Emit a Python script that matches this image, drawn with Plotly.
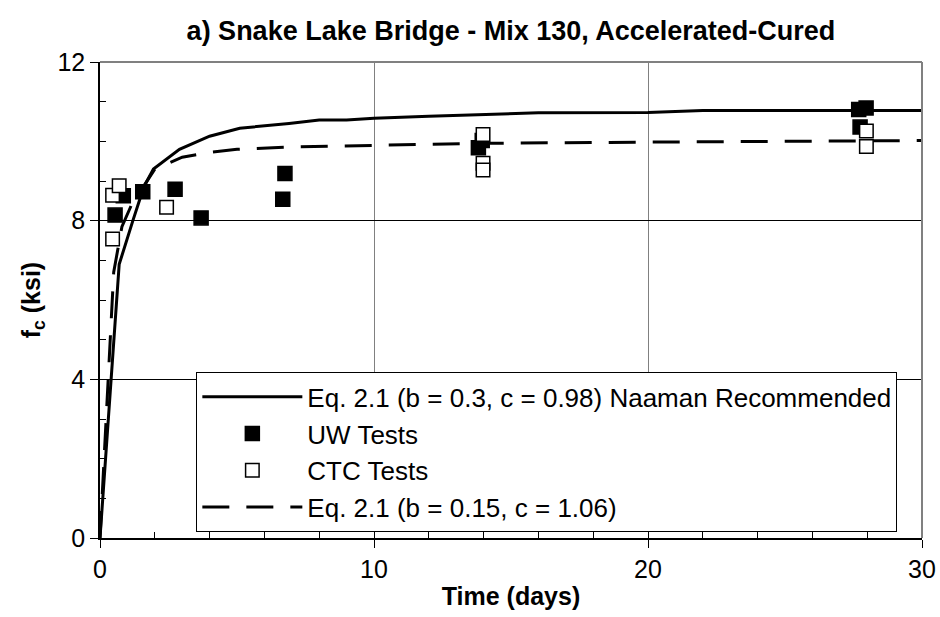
import plotly.graph_objects as go

# ---------------- data ----------------
# Eq. 2.1 (b = 0.3, c = 0.98) Naaman Recommended
naaman_t = [0, 0.7, 1.2, 1.6, 1.95, 2.9, 4.0, 5.1, 6.9, 8.0, 9.0, 10.0, 12.0, 14.0, 16.0, 20.0, 22.0, 30.0]
naaman_f = [0, 6.9, 8.0, 8.85, 9.3, 9.8, 10.13, 10.33, 10.45, 10.54, 10.54, 10.58, 10.63, 10.67, 10.72, 10.73, 10.78, 10.78]

# Eq. 2.1 (b = 0.15, c = 1.06)
fit_t = [0, 0.5, 0.8, 1.15, 2.0, 3.0, 4.0, 5.0, 7.0, 10.0, 14.0, 20.0, 28.0, 30.0]
fit_f = [0, 6.7, 7.85, 8.4, 9.3, 9.6, 9.72, 9.8, 9.86, 9.9, 9.95, 9.98, 10.02, 10.02]

# UW Tests
uw_t = [0.55, 0.85, 1.56, 2.74, 3.69, 6.67, 6.75, 13.81, 13.95, 27.69, 27.96, 27.74]
uw_f = [8.14, 8.63, 8.73, 8.79, 8.07, 8.54, 9.19, 9.84, 10.02, 10.80, 10.84, 10.36]

# CTC Tests
ctc_t = [0.46, 0.46, 0.70, 2.43, 13.98, 13.98, 13.98, 27.97, 27.97]
ctc_f = [7.54, 8.64, 8.88, 8.34, 10.17, 9.45, 9.28, 10.26, 9.87]

x_ticks = [0, 10, 20, 30]
y_ticks = [0, 4, 8, 12]

FONT = "Liberation Sans, Arial, sans-serif"

fig = go.Figure()
fig.add_trace(go.Scatter(
    x=naaman_t, y=naaman_f, mode="lines",
    name="Eq. 2.1 (b = 0.3, c = 0.98) Naaman Recommended",
    line=dict(color="black", width=3), legendrank=1, legendgroup="a"))
fig.add_trace(go.Scatter(
    x=fit_t, y=fit_f, mode="lines",
    name="Eq. 2.1 (b = 0.15, c = 1.06)",
    line=dict(color="black", width=3, dash="27px,17px"), legendrank=4, legendgroup="d"))
fig.add_trace(go.Scatter(
    x=uw_t, y=uw_f, mode="markers", name="UW Tests",
    marker=dict(symbol="square", size=14, color="black", line=dict(color="black", width=1.5)),
    legendrank=2, legendgroup="b"))
fig.add_trace(go.Scatter(
    x=ctc_t, y=ctc_f, mode="markers", name="CTC Tests",
    marker=dict(symbol="square", size=13.5, color="white", line=dict(color="black", width=1.5)),
    legendrank=3, legendgroup="c"))

fig.update_layout(
    width=940, height=617,
    margin=dict(l=100, r=18, t=62, b=79),
    paper_bgcolor="white", plot_bgcolor="white",
    font=dict(family=FONT, color="black", size=25),
    title=dict(text="a) Snake Lake Bridge - Mix 130, Accelerated-Cured",
               x=0.5, xref="paper", xanchor="center", y=0.95, yanchor="middle",
               font=dict(family=FONT, size=27, weight="bold")),
    showlegend=True,
    legend=dict(x=0.97, xanchor="right", y=0.012, yanchor="bottom",
                bgcolor="white", bordercolor="black", borderwidth=1,
                font=dict(family=FONT, size=26), tracegroupgap=0,
                itemwidth=100),
)

fig.update_xaxes(
    range=[0, 30], tickvals=x_ticks, ticktext=[str(v) for v in x_ticks],
    showgrid=True, gridcolor="#808080", gridwidth=1,
    showline=True, linecolor="black", linewidth=1.5,
    ticks="outside", ticklen=8, tickcolor="black",
    minor=dict(dtick=2, ticks="inside", ticklen=6, tickcolor="black", showgrid=False),
    zeroline=False, automargin=False,
    title=dict(text="<b>Time (days)</b>", font=dict(family=FONT, size=25), standoff=6),
    tickfont=dict(family=FONT, size=25),
)
fig.update_yaxes(
    range=[0, 12], tickvals=y_ticks, ticktext=[str(v) for v in y_ticks],
    showgrid=True, gridcolor="black", gridwidth=1,
    showline=True, linecolor="black", linewidth=1.5,
    ticks="outside", ticklen=8, tickcolor="black",
    minor=dict(dtick=1, ticks="inside", ticklen=6, tickcolor="black", showgrid=False),
    zeroline=False, automargin=False,
    title=dict(text="<b>f<sub>c</sub> (ksi)</b>", font=dict(family=FONT, size=25), standoff=10),
    tickfont=dict(family=FONT, size=25),
)

# gray plot-area border on top and right
fig.add_shape(type="line", xref="x domain", yref="y domain", x0=0, x1=1, y0=1, y1=1,
              line=dict(color="#808080", width=2))
fig.add_shape(type="line", xref="x domain", yref="y domain", x0=1, x1=1, y0=0, y1=1,
              line=dict(color="#808080", width=2))

fig.write_html("out.html")
